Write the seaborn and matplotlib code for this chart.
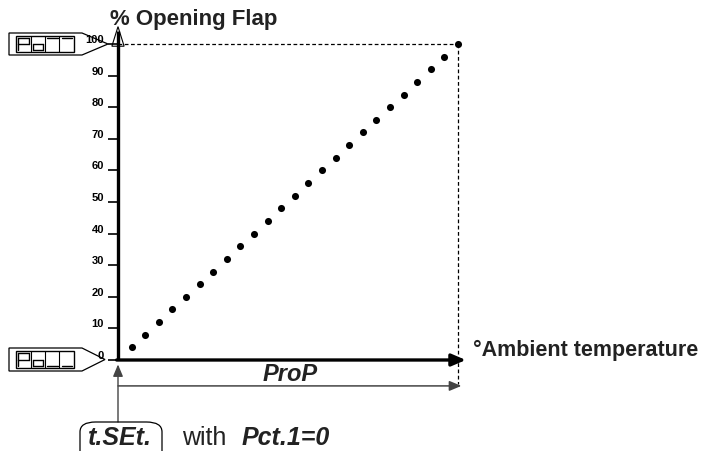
import matplotlib
matplotlib.use("Agg")
import matplotlib.pyplot as plt
import matplotlib.transforms as mtransforms
from matplotlib.patches import Polygon, FancyBboxPatch
import seaborn as sns
import pandas as pd

# opening of the flap vs position inside the ProP band (both in %)
band_pos = [4, 8, 12, 16, 20, 24, 28, 32, 36, 40, 44, 48, 52,
            56, 60, 64, 68, 72, 76, 80, 84, 88, 92, 96, 100]
opening = [4, 8, 12, 16, 20, 24, 28, 32, 36, 40, 44, 48, 52,
           56, 60, 64, 68, 72, 76, 80, 84, 88, 92, 96, 100]
y_ticks = [0, 10, 20, 30, 40, 50, 60, 70, 80, 90, 100]

W, H = 709, 452
TXT = "#222222"

sns.set_theme(style="white")
plt.rcParams['font.family'] = ['Liberation Sans', 'DejaVu Sans']

fig = plt.figure(figsize=(W / 100, H / 100), dpi=100)
fig.patch.set_facecolor("white")
ax = fig.add_axes([118 / W, (H - 361) / H, 340 / W, 316 / H])
ax.set_xlim(0, 100)
ax.set_ylim(0, 100)
for s in ax.spines.values():
    s.set_visible(False)
ax.set_facecolor("none")


def px(x, y):
    # pixel position (from top-left) -> figure fraction
    return x / W, 1 - y / H


df = pd.DataFrame({"band": band_pos, "opening": opening})
sns.scatterplot(data=df, x="band", y="opening", ax=ax, color="black",
                s=26, linewidth=0, clip_on=False, zorder=5, legend=False)
ax.set_xlabel("")
ax.set_ylabel("")

# y ticks: short outward marks, labels sitting a bit above them
ax.set_xticks([])
ax.set_yticks(y_ticks)
ax.set_yticklabels([str(v) for v in y_ticks], fontsize=8, fontweight="bold",
                   color=TXT)
ax.tick_params(axis="y", direction="out", length=7, width=1.2, pad=3,
               left=True, colors="black")
shift = mtransforms.ScaledTranslation(0, 6 / 100, fig.dpi_scale_trans)
for lab in ax.get_yticklabels():
    lab.set_transform(lab.get_transform() + shift)

# axes lines
ax.plot([0, 0], [0, 104], color="black", lw=2.4, clip_on=False,
        solid_capstyle="butt")
ax.add_patch(Polygon([[0, 105.5], [-1.8, 99.3], [1.8, 99.3]], closed=True,
                     fill=False, ec="black", lw=0.8, clip_on=False))
ax.annotate("", xy=(102.3, 0), xytext=(-0.4, 0),
            arrowprops=dict(arrowstyle="-|>,head_length=0.7,head_width=0.3",
                            lw=2.4, color="black", shrinkA=0, shrinkB=0),
            annotation_clip=False)

# dashed guides
ax.plot([0, 100], [100, 100], color="black", lw=0.9, ls=(0, (3, 2)),
        clip_on=False)
ax.plot([100, 100], [100, -7.5], color="black", lw=0.9, ls=(0, (3, 2)),
        clip_on=False)

# ProP band arrow
ax.annotate("", xy=(101, -8.2), xytext=(0, -8.2),
            arrowprops=dict(arrowstyle="-|>,head_length=0.6,head_width=0.25",
                            lw=1.1, color="#444444", shrinkA=0, shrinkB=0),
            annotation_clip=False)
fig.text(*px(290, 381), "ProP", ha="center", va="baseline", fontsize=17,
         fontweight="bold", fontstyle="italic", color=TXT)

# t.SEt. pointer
ax.annotate("", xy=(0, -1.4), xytext=(0, -19.6),
            arrowprops=dict(arrowstyle="-|>,head_length=0.6,head_width=0.25",
                            lw=1.0, color="#444444", shrinkA=0, shrinkB=0),
            annotation_clip=False)
fig.patches.append(FancyBboxPatch(px(80, 462), 82 / W, 39 / H,
                                  boxstyle="round,pad=0,rounding_size=0.022",
                                  transform=fig.transFigure, fill=False,
                                  ec="black", lw=0.9))
fig.text(*px(120, 445), "t.SEt.", ha="center", va="baseline", fontsize=18,
         fontweight="bold", fontstyle="italic", color=TXT)
fig.text(*px(182, 445), "with", ha="left", va="baseline", fontsize=18,
         color=TXT)
fig.text(*px(242, 445), "Pct.1=0", ha="left", va="baseline", fontsize=18,
         fontweight="bold", fontstyle="italic", color=TXT)

# axis titles
fig.text(*px(110, 24.5), "% Opening Flap", ha="left", va="baseline",
         fontsize=16, fontweight="bold", color=TXT)
fig.text(*px(473, 356), "°Ambient temperature", ha="left", va="baseline",
         fontsize=15.5, fontweight="bold", color=TXT)


# seven-segment display tags
def segment_cell(x0, y0, x1, y1, segs):
    m = 2
    xl, xr = x0 + m, x1 - m
    yt, yb = y0 + m, y1 - m
    ym = (yt + yb) / 2
    lines = {
        "a": [(xl, yt), (xr, yt)], "b": [(xr, yt), (xr, ym)],
        "c": [(xr, ym), (xr, yb)], "d": [(xl, yb), (xr, yb)],
        "e": [(xl, ym), (xl, yb)], "f": [(xl, yt), (xl, ym)],
        "g": [(xl, ym), (xr, ym)],
    }
    for s in segs:
        (ax_, ay_), (bx_, by_) = lines[s]
        p1, p2 = px(ax_, ay_), px(bx_, by_)
        fig.add_artist(plt.Line2D([p1[0], p2[0]], [p1[1], p2[1]],
                                  transform=fig.transFigure, color="black",
                                  lw=1.0))


def display_tag(top, bottom, tip, cells):
    mid = (top + bottom) / 2
    pts = [px(9, top), px(82, top), px(tip, mid), px(82, bottom), px(9, bottom)]
    fig.patches.append(Polygon(pts, closed=True, fill=False, ec="black",
                               lw=0.9, transform=fig.transFigure))
    x0, x1 = 16, 74
    yt, yb = top + 3, bottom - 3
    fig.patches.append(Polygon([px(x0, yt), px(x1, yt), px(x1, yb), px(x0, yb)],
                               closed=True, fill=False, ec="black", lw=1.0,
                               transform=fig.transFigure))
    cw = (x1 - x0) / 4
    for i, segs in enumerate(cells):
        cx0 = x0 + i * cw
        if i > 0:
            p1, p2 = px(cx0, yt), px(cx0, yb)
            fig.add_artist(plt.Line2D([p1[0], p2[0]], [p1[1], p2[1]],
                                      transform=fig.transFigure,
                                      color="black", lw=0.8))
        segment_cell(cx0, yt, cx0 + cw, yb, segs)


display_tag(34, 56, 108, ["abfge", "cdeg", "a", "a"])
display_tag(349, 372, 105, ["abfge", "cdeg", "d", "d"])

fig.savefig("out.png", dpi=100, facecolor="white")
